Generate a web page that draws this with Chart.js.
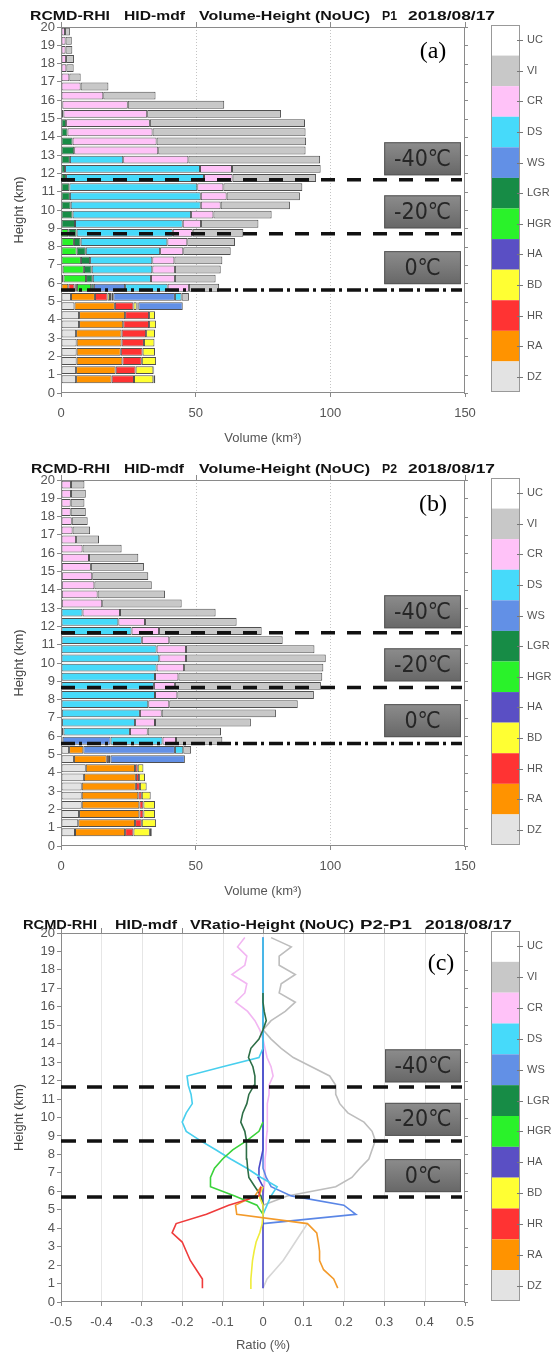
<!DOCTYPE html>
<html>
<head>
<meta charset="utf-8">
<script src="https://cdn.jsdelivr.net/npm/chart.js@4.4.0/dist/chart.umd.min.js"></script>
<style>
  body { margin: 0; background: #fff; }
  #wrap { position: relative; width: 560px; height: 1353px; }
  canvas { position: absolute; left: 0; }
</style>
</head>
<body>
<div id="wrap">
  <canvas id="chartA" width="560" height="453" style="top:0px"></canvas>
  <canvas id="chartB" width="560" height="453" style="top:453px"></canvas>
  <canvas id="chartC" width="560" height="447" style="top:906px"></canvas>
</div>
<script>
// bin centres (km), 0.5 km bins
const heights = [0.75,1.25,1.75,2.25,2.75,3.25,3.75,4.25,4.75,5.25,
                 5.75,6.25,6.75,7.25,7.75,8.25,8.75,9.25,9.75,10.25,
                 10.75,11.25,11.75,12.25,12.75,13.25,13.75,14.25,14.75,15.25,
                 15.75,16.25,16.75,17.25,17.75,18.25,18.75,19.25,19.75];

// hydrometeor classes, in stacking order (bottom of the colour bar first)
const classNames = ['DZ','RA','HR','BD','HA','HGR','LGR','WS','DS','CR','VI','UC'];
const classColors = ['#e3e3e3','#ff9300','#ff3333','#ffff33','#5a4fc4','#2af22a','#178c46','#6290e6','#46dafa','#ffc2f8','#c8c8c8','#ffffff'];
const lineColors = {DZ:'#d6d6d6', RA:'#f39a2a', HR:'#ef3b3b', BD:'#efec3a', HA:'#4a48c8', HGR:'#3ad23a',
                    LGR:'#2d6e46', WS:'#5a86e6', DS:'#48cfee', CR:'#f2b6f2', VI:'#bdbdbd'};

// P1 volume (km3) per class and bin
const p1DZ  = [5.6,5.6,5.8,5.8,5.8,5.6,6.7,6.7,5.0,3.7, 0,0,0,0,0,0,0,0,0,0, 0,0,0,0,0,0,0,0,0,0, 0,0,0,0,0,0,0,0,0];
const p1RA  = [13.2,14.7,17.0,16.4,16.7,16.9,16.4,17.1,15.0,8.9, 2.7,0,0,0,0,0,0,0,0,0, 0,0,0,0,0,0,0,0,0,0, 0,0,0,0,0,0,0,0,0];
const p1HR  = [8.3,7.4,7.2,8.1,8.3,9.1,9.6,8.9,6.9,4.7, 2.3,0,0,0,0,0,0,0,0,0, 0,0,0,0,0,0,0,0,0,0, 0,0,0,0,0,0,0,0,0];
const p1BD  = [7.2,6.6,5.3,4.6,3.9,3.3,2.6,2.2,1.2,0.9, 0.5,0,0,0,0,0,0,0,0,0, 0,0,0,0,0,0,0,0,0,0, 0,0,0,0,0,0,0,0,0];
const p1HA  = [0.7,0.3,0,0,0,0,0,0,0,0, 0.4,0.9,0.6,0,0,0,0,0,0,0, 0,0,0,0,0,0,0,0,0,0, 0,0,0,0,0,0,0,0,0];
const p1HGR = [0,0,0,0,0,0,0,0,0.3,0.6, 5.3,8.4,7.9,7.4,5.8,4.8,2.7,0,0,0, 0,0,0,0,0,0,0,0,0,0, 0,0,0,0,0,0,0,0,0];
const p1LGR = [0,0,0,0,0,0,0,0,0.3,0.6, 1.0,2.5,2.9,3.4,3.4,2.5,3.1,5.2,4.3,3.6, 3.3,3.1,1.9,1.5,3.3,4.9,4.3,2.4,1.9,0.9, 0.5,0,0,0,0,0,0,0,0];
const p1WS  = [0,0,0,0,0,0,0,0,16.5,22.9, 11.6,0,0,0,0,0,0,0,0,0, 0,0,0,0,0,0,0,0,0,0, 0,0,0,0,0,0,0,0,0];
const p1DS  = [0,0,0,0,0,0,0,0,0,2.5, 15.8,21.6,22.5,23.1,27.6,32.2,35.7,40.0,44.0,48.3, 48.6,47.5,51.2,50.1,19.8,0,0,0,0,0, 0,0,0,0,0,0,0,0,0];
const p1CR  = [0,0,0,0,0,0,0,0,0,0, 7.9,8.9,8.4,8.2,8.6,7.4,7.4,6.8,8.3,7.4, 9.6,9.7,10.6,11.9,24.2,31.2,31.2,31.6,31.1,31.1, 24.3,15.7,7.3,3.1,2.0,1.9,1.7,1.7,1.5];
const p1VI  = [0,0,0,0,0,0,0,0,0,2.7, 11.2,15.1,17.0,17.8,17.6,17.7,18.8,21.3,21.6,25.7, 27.2,29.3,31.0,32.9,48.9,54.7,55.5,56.8,57.6,49.7, 35.8,19.4,10.3,4.2,2.7,2.9,2.5,2.3,1.8];

// P2 volume (km3) per class and bin
const p2DZ  = [5.2,6.4,6.7,7.7,7.7,7.7,8.5,9.2,4.8,3.0, 0,0,0,0,0,0,0,0,0,0, 0,0,0,0,0,0,0,0,0,0, 0,0,0,0,0,0,0,0,0];
const p2RA  = [18.6,21.1,22.4,21.4,21.0,20.1,19.3,18.3,12.2,5.3, 0.6,0,0,0,0,0,0,0,0,0, 0,0,0,0,0,0,0,0,0,0, 0,0,0,0,0,0,0,0,0];
const p2HR  = [3.1,2.5,1.5,1.5,1.3,1.5,1.2,1.0,0.8,0, 0,0,0,0,0,0,0,0,0,0, 0,0,0,0,0,0,0,0,0,0, 0,0,0,0,0,0,0,0,0];
const p2BD  = [6.1,5.3,4.3,4.3,3.3,2.5,2.2,2.1,0,0, 0,0,0,0,0,0,0,0,0,0, 0,0,0,0,0,0,0,0,0,0, 0,0,0,0,0,0,0,0,0];
const p2HA  = [0.7,0,0,0,0,0,0,0,0,0, 0,0,0,0,0,0,0,0,0,0, 0,0,0,0,0,0,0,0,0,0, 0,0,0,0,0,0,0,0,0];
const p2HGR = [0,0,0,0,0,0,0,0,0,0, 0,0,0,0,0,0,0,0,0,0, 0,0,0,0,0,0,0,0,0,0, 0,0,0,0,0,0,0,0,0];
const p2LGR = [0,0,0,0,0,0,0,0,0.6,0, 0,0.9,0.4,0.3,0,0,0,0,0,0, 0,0,0,0,0,0.3,0.3,0.3,0.3,0.3, 0.3,0,0,0,0,0,0,0,0];
const p2WS  = [0,0,0,0,0,0,0,0,27.6,34.0, 17.8,0,0,0,0,0,0,0,0,0, 0,0,0,0,0,0,0,0,0,0, 0,0,0,0,0,0,0,0,0];
const p2DS  = [0,0,0,0,0,0,0,0,0,3.1, 19.3,24.7,27.1,29.0,32.4,34.9,34.5,34.9,35.5,36.5, 35.5,30.0,26.2,21.3,8.0,0,0,0,0,0, 0,0,0,0,0,0,0,0,0];
const p2CR  = [0,0,0,0,0,0,0,0,0,0, 5.0,6.6,7.4,8.1,7.8,8.3,7.8,8.7,10.2,9.9, 10.9,10.2,10.2,9.9,13.9,15.0,13.3,12.1,11.3,10.8, 10.1,8.0,5.6,4.3,4.0,3.6,3.6,3.7,3.7];
const p2VI  = [0,0,0,0,0,0,0,0,0,2.9, 17.2,27.2,35.6,42.4,47.7,50.7,54.2,53.4,51.7,51.9, 47.7,42.1,38.1,34.0,35.5,29.5,25.0,21.3,20.8,19.7, 18.3,14.5,8.5,6.5,5.9,5.6,5.1,5.5,5.0];

// P2-P1 volume ratio (%) per class and bin, _ = no value
const _ = null;
const rDZ  = [0,0.01,0.03,0.05,0.065,0.08,0.095,0.11,_,_, _,_,_,_,_,_,_,_,_,_, _,_,_,_,_,_,_,_,_,_, _,_,_,_,_,_,_,_,_];
const rRA  = [0.185,0.175,0.15,0.14,0.14,0.137,0.133,0.11,-0.065,-0.068, -0.02,-0.005,_,_,_,_,_,_,_,_, _,_,_,_,_,_,_,_,_,_, _,_,_,_,_,_,_,_,_];
const rHR  = [-0.15,-0.15,-0.165,-0.18,-0.19,-0.2,-0.225,-0.215,-0.14,-0.085, -0.01,-0.005,_,_,_,_,_,_,_,_, _,_,_,_,_,_,_,_,_,_, _,_,_,_,_,_,_,_,_];
const rBD  = [-0.032,-0.03,-0.028,-0.026,-0.022,-0.017,-0.008,-0.002,0,0, -0.01,0,_,_,_,_,_,_,_,_, _,_,_,_,_,_,_,_,_,_, _,_,_,_,_,_,_,_,_];
const rHA  = [0,0,0,0,0,0,0,0,0,0, 0,0,-0.012,-0.01,-0.005,0,0,0,0,0, 0,0,0,0,0,0,0,0,0,0, 0,0,0,0,0,0,0,0,0];
const rHGR = [_,_,_,_,_,_,_,_,0,-0.015, -0.07,-0.13,-0.13,-0.12,-0.1,-0.075,-0.04,-0.01,0,_, _,_,_,_,_,_,_,_,_,_, _,_,_,_,_,_,_,_,_];
const rLGR = [_,_,_,_,_,_,_,_,_,0, -0.005,-0.02,-0.035,-0.038,-0.04,-0.04,-0.042,-0.045,-0.055,-0.05, -0.04,-0.035,-0.022,-0.02,-0.025,-0.036,-0.03,-0.01,0,0.008, 0.003,0,0,_,_,_,_,_,_];
const rWS  = [_,_,_,_,_,_,_,0,0.23,0.2, 0.07,0.02,0.008,0,0,0,0,0,0,0, 0,0,0,0,0,0,0,0,0,0, 0,0,0,0,0,0,0,0,0];
const rDS  = [_,_,_,_,_,_,_,_,0,0.01, 0.02,0.035,-0.005,-0.04,-0.08,-0.117,-0.155,-0.19,-0.2,-0.19, -0.175,-0.178,-0.185,-0.188,-0.1,-0.01,0,0,0,0, 0,0,0,0,0,0,0,0,0];
const rCR  = [_,_,_,_,_,_,_,_,_,_, 0,0.003,0.005,0.005,0.005,0.008,0.008,0.01,0.01,0.01, 0.012,0.015,0.015,0.025,0.02,0.01,0.005,0,-0.008,-0.02, -0.038,-0.068,-0.045,-0.04,-0.077,-0.045,-0.04,-0.063,-0.045];
const rVI  = [_,_,_,_,_,_,_,_,_,0, 0.06,0.18,0.22,0.24,0.262,0.27,0.278,0.27,0.25,0.21, 0.19,0.18,0.18,0.165,0.12,0.075,0.045,0.02,0,0.02, 0.055,0.08,0.04,0.045,0.08,0.04,0.04,0.07,0.02];

// isotherm heights (km) and their labels
const levelLabels = ['-40℃', '-20℃', '0℃'];
const levelsP1 = [11.65, 8.70, 5.63];
const levelsP2 = [11.65, 8.66, 5.60];
const levelsR  = [11.65, 8.73, 5.69];
const labelHeights = [12.8, 9.9, 6.85];

Chart.defaults.font.family = "'Liberation Sans', Arial, sans-serif";
Chart.defaults.color = '#555';

function drawStretched(ctx, text, x0, x1, yc) {
  const w = ctx.measureText(text).width;
  ctx.save();
  ctx.translate(x0, yc);
  ctx.scale((x1 - x0) / w, 1);
  ctx.fillText(text, 0, 0);
  ctx.restore();
}

function makeDecor(cfg) {
  return {
    id: 'decor',
    beforeDatasetsDraw(chart) {
      const {ctx, chartArea: a, scales: {x}} = chart;
      ctx.save();
      ctx.strokeStyle = cfg.gridColor;
      ctx.lineWidth = 1;
      ctx.setLineDash(cfg.gridDash);
      x.ticks.forEach(t => {
        const px = Math.round(x.getPixelForValue(t.value)) + 0.5;
        if (px <= a.left + 2 || px >= a.right - 2) return;
        ctx.beginPath(); ctx.moveTo(px, a.top); ctx.lineTo(px, a.bottom); ctx.stroke();
      });
      ctx.restore();
    },
    afterDraw(chart) {
      const {ctx, chartArea: a, scales: {x, y}} = chart;
      ctx.save();
      // frame + outer ticks on top and right
      ctx.strokeStyle = '#8a8a8a';
      ctx.lineWidth = 1;
      ctx.strokeRect(Math.round(a.left) + 0.5, Math.round(a.top) + 0.5,
                     Math.round(a.right - a.left) - 1, Math.round(a.bottom - a.top) - 1);
      ctx.beginPath();
      x.ticks.forEach(t => {
        const px = Math.round(x.getPixelForValue(t.value)) + 0.5;
        ctx.moveTo(px, a.top); ctx.lineTo(px, a.top - 5);
      });
      y.ticks.forEach(t => {
        const py = Math.round(y.getPixelForValue(t.value)) + 0.5;
        ctx.moveTo(a.right - 1, py); ctx.lineTo(a.right + 3, py);
      });
      ctx.stroke();

      // isotherms
      ctx.strokeStyle = '#111';
      ctx.lineWidth = 3.5;
      cfg.levels.forEach((lv, i) => {
        const py = y.getPixelForValue(lv);
        ctx.setLineDash(cfg.dashes[i]);
        ctx.beginPath(); ctx.moveTo(a.left, py); ctx.lineTo(a.right - 3, py); ctx.stroke();
      });
      ctx.setLineDash([]);

      // isotherm label boxes
      levelLabels.forEach((txt, i) => {
        const cy = y.getPixelForValue(labelHeights[i]);
        const bx0 = x.getPixelForValue(cfg.boxX[0]), bx1 = x.getPixelForValue(cfg.boxX[1]);
        const bh = 33, by = cy - bh / 2;
        const g = ctx.createLinearGradient(0, by, 0, by + bh);
        g.addColorStop(0, '#8c8c8c');
        g.addColorStop(1, '#676767');
        ctx.fillStyle = g;
        ctx.fillRect(bx0, by, bx1 - bx0, bh);
        ctx.lineWidth = 1;
        ctx.strokeStyle = '#555';
        ctx.strokeRect(bx0 + 0.5, by + 0.5, bx1 - bx0 - 1, bh - 1);
        ctx.fillStyle = '#262626';
        ctx.font = "23px 'DejaVu Sans Condensed', 'DejaVu Sans', sans-serif";
        ctx.textAlign = 'center';
        ctx.textBaseline = 'middle';
        ctx.fillText(txt, (bx0 + bx1) / 2, cy + 1, bx1 - bx0 - 16);
      });

      // colour bar legend
      const cbL = a.right + 26, cbR = a.right + 55, cbT = a.top - 2, cbB = a.bottom - 1;
      const n = classNames.length, ch = (cbB - cbT) / n;
      ctx.font = "11px 'Liberation Sans', Arial, sans-serif";
      ctx.textAlign = 'left';
      ctx.textBaseline = 'middle';
      for (let k = 0; k < n; k++) {
        const idx = n - 1 - k;
        ctx.fillStyle = classColors[idx];
        ctx.fillRect(cbL, cbT + k * ch, cbR - cbL, ch);
      }
      ctx.strokeStyle = '#999';
      ctx.strokeRect(cbL + 0.5, cbT + 0.5, cbR - cbL - 1, cbB - cbT - 1);
      ctx.beginPath();
      for (let k = 0; k < n; k++) {
        const idx = n - 1 - k;
        const cy = cbT + (k + 0.5) * ch;
        ctx.moveTo(cbR - 3, Math.round(cy) + 0.5); ctx.lineTo(cbR + 3, Math.round(cy) + 0.5);
        ctx.fillStyle = '#555';
        ctx.fillText(classNames[idx], cbR + 7, cy);
      }
      ctx.strokeStyle = '#777';
      ctx.stroke();

      // title
      ctx.fillStyle = '#111';
      ctx.font = "bold 13px 'Liberation Sans', Arial, sans-serif";
      ctx.textAlign = 'left';
      ctx.textBaseline = 'middle';
      cfg.title.forEach(s => drawStretched(ctx, s[0], s[1], s[2], cfg.titleY));

      // panel tag
      ctx.fillStyle = '#000';
      ctx.font = "24px 'Liberation Serif', 'DejaVu Serif', serif";
      ctx.textAlign = 'center';
      ctx.fillText(cfg.tag, cfg.tagX, cfg.tagY);
      ctx.restore();
    }
  };
}

function heightAxis(stacked) {
  return {
    type: 'linear', min: 0, max: 20, offset: false, stacked: stacked,
    ticks: { stepSize: 1, autoSkip: false, color: '#555', font: { size: 13 }, padding: 2 },
    grid: { drawOnChartArea: false, tickLength: 4, tickColor: '#888', offset: false },
    border: { display: false },
    title: { display: true, text: 'Height (km)', color: '#444', font: { size: 13 }, padding: { top: 12, bottom: 0 } },
    afterFit(s) { s.width = 61; }
  };
}

function volumeChart(id, series, titleSegs, tag, levels) {
  const datasets = classNames.slice(0, 11).map((c, k) => ({
    label: c,
    data: heights.map((h, i) => ({ x: series[c][i], y: h })).filter(p => p.x > 0),
    backgroundColor: classColors[k],
    borderColor: '#505050',
    borderWidth: 1,
    borderSkipped: false,
    barPercentage: 0.86,
    categoryPercentage: 1
  }));
  new Chart(document.getElementById(id), {
    type: 'bar',
    data: { datasets },
    options: {
      indexAxis: 'y',
      responsive: false,
      animation: false,
      layout: { padding: { top: 27, right: 95, left: 0, bottom: 0 } },
      plugins: { legend: { display: false }, tooltip: { enabled: false } },
      scales: {
        x: {
          type: 'linear', min: 0, max: 150, stacked: true,
          ticks: { stepSize: 50, color: '#555', font: { size: 13 }, padding: 9, maxRotation: 0 },
          grid: { drawOnChartArea: false, tickLength: 4, tickColor: '#888' },
          border: { display: false },
          title: { display: true, text: 'Volume (km³)', color: '#555', font: { size: 13 }, padding: { top: 0, bottom: 7 } },
          afterFit(s) { s.height = 60; }
        },
        y: heightAxis(true)
      }
    },
    plugins: [makeDecor({
      gridColor: '#c4c4c4', gridDash: [1, 2],
      levels, dashes: [[14, 12], [14, 12], [14, 4, 3, 5]],
      boxX: [120, 148.5],
      title: titleSegs, titleY: 16,
      tag, tagX: 433, tagY: 52
    })]
  });
}

volumeChart('chartA',
  { DZ: p1DZ, RA: p1RA, HR: p1HR, BD: p1BD, HA: p1HA, HGR: p1HGR, LGR: p1LGR, WS: p1WS, DS: p1DS, CR: p1CR, VI: p1VI },
  [['RCMD-RHI', 30, 110], ['HID-mdf', 124, 185], ['Volume-Height (NoUC)', 199, 370], ['P1', 382, 397], ['2018/08/17', 408, 495]],
  '(a)', levelsP1);

volumeChart('chartB',
  { DZ: p2DZ, RA: p2RA, HR: p2HR, BD: p2BD, HA: p2HA, HGR: p2HGR, LGR: p2LGR, WS: p2WS, DS: p2DS, CR: p2CR, VI: p2VI },
  [['RCMD-RHI', 31, 110], ['HID-mdf', 124, 184], ['Volume-Height (NoUC)', 199, 370], ['P2', 382, 397], ['2018/08/17', 408, 495]],
  '(b)', levelsP2);

// ratio panel - listed top-most first (Chart.js paints the first dataset last)
const ratioSeries = { HR: rHR, RA: rRA, BD: rBD, HGR: rHGR, LGR: rLGR, DS: rDS, HA: rHA, WS: rWS, CR: rCR, VI: rVI, DZ: rDZ };
new Chart(document.getElementById('chartC'), {
  type: 'line',
  data: {
    datasets: Object.keys(ratioSeries).map(c => ({
      label: c,
      data: heights.map((h, i) => ({ x: ratioSeries[c][i], y: h })).filter(p => p.x !== null),
      borderColor: lineColors[c],
      borderWidth: 1.6,
      pointRadius: 0,
      fill: false,
      tension: 0
    }))
  },
  options: {
    responsive: false,
    animation: false,
    layout: { padding: { top: 27, right: 95, left: 0, bottom: 0 } },
    plugins: { legend: { display: false }, tooltip: { enabled: false } },
    scales: {
      x: {
        type: 'linear', min: -0.5, max: 0.5,
        ticks: { stepSize: 0.1, color: '#555', font: { size: 13 }, padding: 9, maxRotation: 0, autoSkip: false,
                 callback: v => String(+v.toFixed(1)) },
        grid: { drawOnChartArea: false, tickLength: 4, tickColor: '#888' },
        border: { display: false },
        title: { display: true, text: 'Ratio (%)', color: '#555', font: { size: 13 }, padding: { top: 0, bottom: 0 } },
        afterFit(s) { s.height = 51; }
      },
      y: heightAxis(false)
    }
  },
  plugins: [makeDecor({
    gridColor: '#e6e6e6', gridDash: [],
    levels: levelsR, dashes: [[15, 11], [15, 11], [15, 11]],
    boxX: [0.302, 0.49],
    title: [['RCMD-RHI', 23, 97], ['HID-mdf', 115, 177], ['VRatio-Height (NoUC)', 190, 354], ['P2-P1', 360, 412], ['2018/08/17', 425, 512]],
    titleY: 19,
    tag: '(c)', tagX: 441, tagY: 58
  })]
});
</script>
</body>
</html>
